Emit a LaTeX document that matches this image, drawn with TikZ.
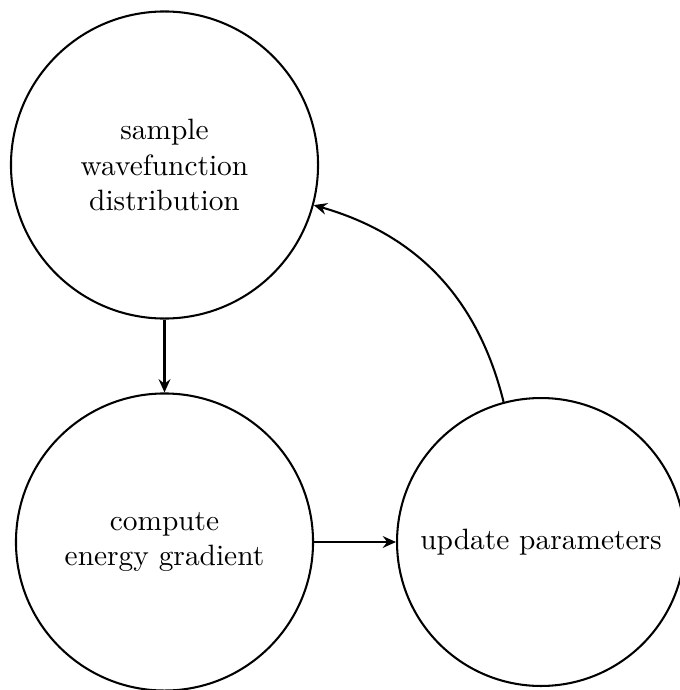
\documentclass[tikz,border=0pt]{standalone}
\usetikzlibrary{arrows.meta}
\begin{document}
\begin{tikzpicture}[x=0.34pt,y=-0.34pt,
  stage/.style={circle,draw,line width=0.7pt,inner sep=0pt,align=center,font=\normalsize},
  flow/.style={line width=0.7pt,-{Stealth[length=4.5pt,width=4pt,inset=1.5pt]}}]
\useasboundingbox (0,0) rectangle (680,690);
\node[stage,minimum size=104.4pt] (sample) at (164.5,165) {sample\\wavefunction\\distribution};
\node[stage,minimum size=101pt] (grad) at (164.5,542) {compute\\energy gradient};
\node[stage,minimum size=97.9pt] (upd) at (541,542) {update parameters};
\draw[flow] (sample) -- (grad);
\draw[flow] (grad) -- (upd);
\draw[flow] (upd) to[bend right=30] (sample);
\end{tikzpicture}
\end{document}
